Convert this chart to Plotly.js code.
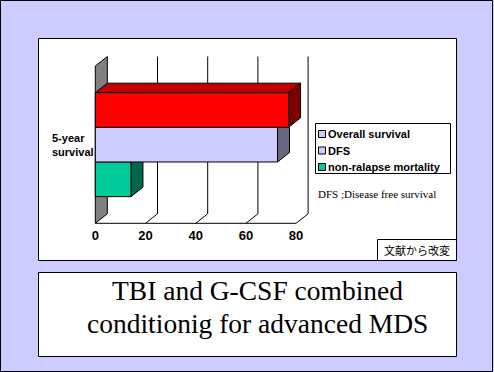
<!DOCTYPE html>
<html>
<head>
<meta charset="utf-8">
<script src="https://cdn.plot.ly/plotly-3.0.1.min.js"></script>
<style>
html,body{margin:0;padding:0;background:#CCCCFF;}
#chart{width:494px;height:372px;}
</style>
</head>
<body>
<div id="chart"></div>
<script>
// ---- data ----
const categories = ['5-year survival'];
const seriesNames = ['Overall survival', 'DFS', 'non-ralapse mortality'];
const seriesValues = [77, 72.6, 14.2];
const frontColors = ['#FF0000', '#CCCCFF', '#00CC99'];
const topColors = ['#C00000', '#9999CC', '#009973'];
const sideColors = ['#800000', '#666680', '#00664D'];
const legendSwatchColors = ['#CCCCFF', '#CCCCFF', '#00CC99'];
const xTickVals = [0, 20, 40, 60, 80];
const xTickText = ['0', '20', '40', '60', '80'];
const titleLines = ['TBI and G-CSF combined', 'conditionig for advanced MDS'];
const noteText = 'DFS ;Disease free survival';
const sourceText = '文献から改変';

// ---- geometry / style ----
const W = 494, H = 372;
const M = {l: 90, r: 179, t: 52, b: 146};
const plotW = W - M.l - M.r, plotH = H - M.t - M.b;
const pxPerUnitX = 2.51;            // horizontal scale
const x0px = 95.3;                   // pixel of value 0
const bandTop = 66, bandBot = 223.3; // front plane of the category band
const pxPerUnitY = bandBot - bandTop;
const bandCenter = (bandTop + bandBot) / 2;
const xRange = [-(x0px - M.l) / pxPerUnitX, -(x0px - M.l) / pxPerUnitX + plotW / pxPerUnitX];
const yRange = [(bandCenter - (M.t + plotH)) / pxPerUnitY, (bandCenter - M.t) / pxPerUnitY];
const dx = 12 / pxPerUnitX;   // depth offset in data units
const dy = 9.5 / pxPerUnitY;
const bargap = 0.339;
const px = v => (v - M.l) / plotW;
const py = v => (M.t + plotH - v) / plotH;

// traces drawn bottom-to-top (reverse of legend order)
const order = seriesNames.map((_, i) => i).reverse();
const n = order.length;
const barW = (1 - bargap) / n;
const traces = order.map(i => ({
  type: 'bar', orientation: 'h', name: seriesNames[i],
  y: categories, x: [seriesValues[i]],
  marker: {color: frontColors[i], line: {color: '#000', width: 1}},
  showlegend: false, hoverinfo: 'skip'
}));

const shapes = [];
// frames (paper)
shapes.push({type: 'rect', xref: 'paper', yref: 'paper', layer: 'below',
  x0: px(0.5), x1: px(492.5), y0: py(0.5), y1: py(371.5),
  line: {color: '#000', width: 1}, fillcolor: '#CCCCFF'});
shapes.push({type: 'rect', xref: 'paper', yref: 'paper', layer: 'below',
  x0: px(38.5), x1: px(456.5), y0: py(38.5), y1: py(260.5),
  line: {color: '#000', width: 1}, fillcolor: '#FFFFFF'});
shapes.push({type: 'rect', xref: 'paper', yref: 'paper', layer: 'below',
  x0: px(38.5), x1: px(456.5), y0: py(272.5), y1: py(356.5),
  line: {color: '#000', width: 1}, fillcolor: '#FFFFFF'});
shapes.push({type: 'rect', xref: 'paper', yref: 'paper', layer: 'below',
  x0: px(377.5), x1: px(456.5), y0: py(239.5), y1: py(260.5),
  line: {color: '#000', width: 1}, fillcolor: '#FFFFFF'});

// 3D walls (data coords)
const yLo = -0.5, yHi = 0.5;
shapes.push({type: 'path', xref: 'x', yref: 'y', layer: 'below',
  path: `M0,${yLo} L0,${yHi} L${dx},${yHi + dy} L${dx},${yLo + dy} Z`,
  fillcolor: '#808080', line: {color: '#000', width: 1}});
xTickVals.filter(v => v > 0).forEach(v => {
  shapes.push({type: 'line', xref: 'x', yref: 'y', layer: 'below',
    x0: v + dx, x1: v + dx, y0: yLo + dy, y1: yHi + dy, line: {color: '#000', width: 1}});
  shapes.push({type: 'line', xref: 'x', yref: 'y', layer: 'below',
    x0: v, x1: v + dx, y0: yLo, y1: yLo + dy, line: {color: '#000', width: 1}});
});
shapes.push({type: 'line', xref: 'x', yref: 'y', layer: 'below',
  x0: 0, x1: xTickVals[xTickVals.length - 1], y0: yLo, y1: yLo, line: {color: '#000', width: 1}});

// bar depth faces
order.forEach((i, j) => {
  const v = seriesValues[i];
  const b0 = -(1 - bargap) / 2 + j * barW, b1 = b0 + barW;
  shapes.push({type: 'path', xref: 'x', yref: 'y', layer: 'below',
    path: `M${v},${b0} L${v},${b1} L${v + dx},${b1 + dy} L${v + dx},${b0 + dy} Z`,
    fillcolor: sideColors[i], line: {color: '#000', width: 1}});
  shapes.push({type: 'path', xref: 'x', yref: 'y', layer: 'below',
    path: `M0,${b1} L${v},${b1} L${v + dx},${b1 + dy} L${dx},${b1 + dy} Z`,
    fillcolor: topColors[i], line: {color: '#000', width: 1}});
});

// legend (custom)
const legTop = 123.5, legBot = 173.5, legL = 315.5, legR = 450.5;
shapes.push({type: 'rect', xref: 'paper', yref: 'paper', layer: 'above',
  x0: px(legL), x1: px(legR), y0: py(legTop), y1: py(legBot),
  line: {color: '#000', width: 1}, fillcolor: '#FFFFFF'});
const rowH = 16.5, firstRow = 134;
const annotations = [];
seriesNames.forEach((name, i) => {
  const cy = firstRow + i * rowH;
  shapes.push({type: 'rect', xref: 'paper', yref: 'paper', layer: 'above',
    x0: px(318.5), x1: px(325.5), y0: py(cy - 3.5), y1: py(cy + 3.5),
    line: {color: '#000', width: 1}, fillcolor: legendSwatchColors[i]});
  annotations.push({xref: 'paper', yref: 'paper', x: px(326), y: py(cy),
    xanchor: 'left', yanchor: 'middle', showarrow: false, text: name,
    font: {family: 'Liberation Sans, Arial, sans-serif', size: 11, weight: 'bold', color: '#000'}});
});

annotations.push({xref: 'paper', yref: 'paper', x: px(50), y: py(145),
  xanchor: 'left', yanchor: 'middle', align: 'left', showarrow: false,
  text: categories[0].replace(' ', '<br>'),
  font: {family: 'Liberation Sans, Arial, sans-serif', size: 11, weight: 'bold', color: '#000'}});
annotations.push({xref: 'paper', yref: 'paper', x: px(316), y: py(194),
  xanchor: 'left', yanchor: 'middle', showarrow: false, text: noteText,
  font: {family: 'Liberation Serif, Times New Roman, serif', size: 11, color: '#000'}});
annotations.push({xref: 'paper', yref: 'paper', x: px(417), y: py(250),
  xanchor: 'center', yanchor: 'middle', showarrow: false, text: sourceText,
  font: {family: 'Noto Sans CJK JP, sans-serif', size: 11, color: '#000'}});
const titleCenters = [290, 323];
titleLines.forEach((t, k) => {
  annotations.push({xref: 'paper', yref: 'paper', x: px(257), y: py(titleCenters[k]),
    xanchor: 'center', yanchor: 'middle', align: 'center', showarrow: false, text: t,
    font: {family: 'Liberation Serif, Times New Roman, serif', size: 27.5, color: '#000'}});
});

const layout = {
  width: W, height: H, margin: M,
  paper_bgcolor: '#CCCCFF', plot_bgcolor: 'rgba(0,0,0,0)',
  barmode: 'group', bargap: bargap, showlegend: false,
  xaxis: {range: xRange, tickvals: xTickVals, ticktext: xTickText, showgrid: false,
    zeroline: false, showline: false, ticks: '', fixedrange: true,
    tickfont: {family: 'Liberation Sans, Arial, sans-serif', size: 13, weight: 'bold', color: '#000'}},
  yaxis: {type: 'category', range: yRange, showticklabels: false, showgrid: false,
    zeroline: false, showline: false, ticks: '', fixedrange: true},
  shapes: shapes, annotations: annotations
};
Plotly.newPlot('chart', traces, layout, {displayModeBar: false, staticPlot: true});
</script>
</body>
</html>
